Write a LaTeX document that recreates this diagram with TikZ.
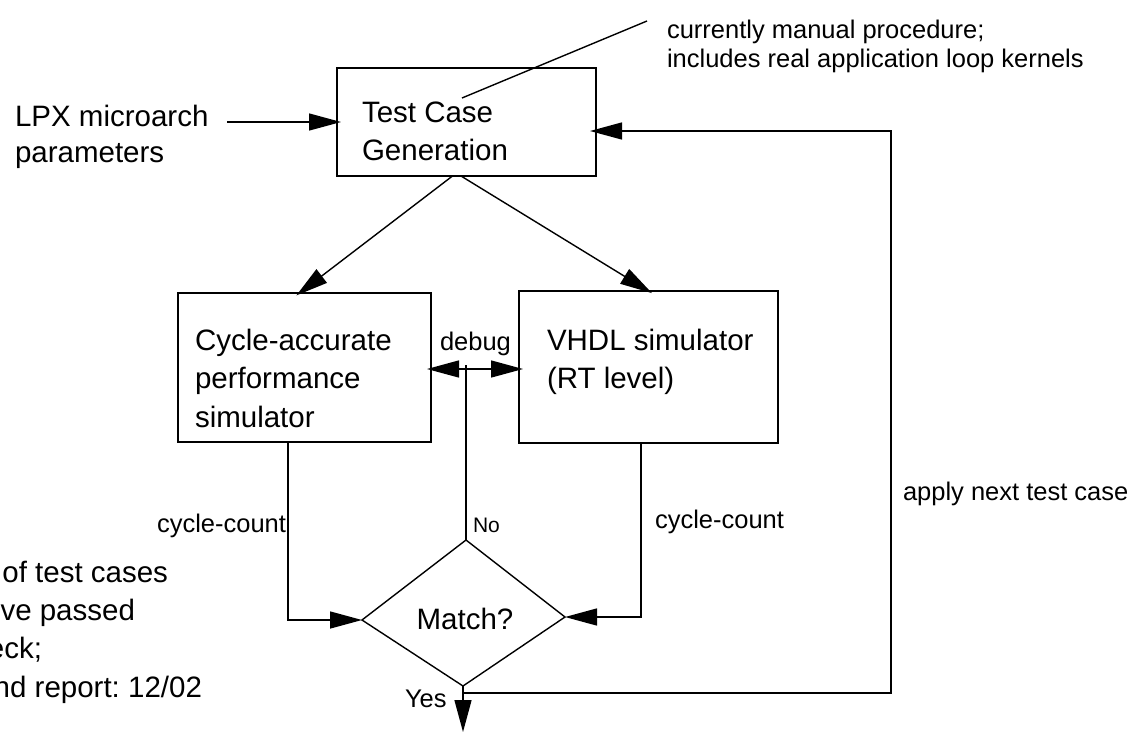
\documentclass[tikz,border=0pt]{standalone}
\usepackage{fontspec}
\setmainfont{Liberation Sans}
\usetikzlibrary{arrows.meta,calc}
\frenchspacing
% left-aligned block of lines whose baseline is the first line's baseline
\newcommand\txtlines[1]{\begin{tabular}[t]{@{}l@{}}#1\end{tabular}}
\begin{document}
\begin{tikzpicture}[x=1pt,y=-1pt,
  every node/.style={inner sep=0pt, outer sep=0pt},
  big/.style={font=\fontsize{29.5}{38.5}\selectfont},
  small/.style={font=\fontsize{25.5}{29}\selectfont},
  tiny/.style={font=\fontsize{21}{25}\selectfont},
  txt/.style={anchor=base west},
  block/.style={draw, line width=1.5pt, anchor=north west},
  wire/.style={line width=1.4pt},
  flow/.style={wire, -{Triangle[length=32pt,width=17pt]}},
  both/.style={wire, {Triangle[length=32pt,width=17pt]}-{Triangle[length=32pt,width=17pt]}},
]
\useasboundingbox (0,0) rectangle (1143,742);
\clip (0,0) rectangle (1143,742);

% ---- blocks ----
\node[block, minimum width=259pt, minimum height=108pt] (tcg) at (337,68) {};
\node[big, txt] (tcg-text) at (362,122) {\txtlines{Test Case\\Generation}};

\node[block, minimum width=253pt, minimum height=149pt] (cas) at (178,293) {};
\node[big, txt] (cas-text) at (195,350) {\txtlines{Cycle-accurate\\performance\\simulator}};

\node[block, minimum width=259pt, minimum height=152pt] (vhdl) at (519,291) {};
\node[big, txt] (vhdl-text) at (547,350) {\txtlines{VHDL simulator\\(RT level)}};

% ---- decision ----
\coordinate (m-top) at (466,540);
\coordinate (m-right) at (565,617);
\coordinate (m-bot) at (463,686);
\coordinate (m-left) at (362,620);
\draw[wire] (m-top) -- (m-right) -- (m-bot) -- (m-left) -- cycle;
\node[big, anchor=base] (match) at (465,629) {Match?};

% ---- inputs and notes ----
\node[big, txt, font=\fontsize{29.5}{36}\selectfont] (lpx) at (15,126) {\txtlines{LPX microarch\\parameters}};
\coordinate (lpx-out) at (227,122);
\draw[flow, shorten >=-4pt] (lpx-out) -- (tcg.west);

\node[small, txt] (note) at (667,38) {\txtlines{currently manual procedure;\\includes real application loop kernels}};
\coordinate (note-tip) at (462,98);
\coordinate (note-tail) at (647,21);
\draw[wire] (note-tip) -- (note-tail);

% ---- test case fan-out ----
\draw[flow, shorten >=-4pt] ([xshift=-14pt]tcg.south) -- ([xshift=-5pt]cas.north);
\draw[flow, shorten >=-4pt] ([xshift=-5.5pt]tcg.south) -- (vhdl.north);

% ---- debug link ----
\coordinate (dbg) at (466,369);
\draw[both, shorten >=-4pt, shorten <=-4pt] (cas.east |- dbg) -- (vhdl.west |- dbg);
\node[small, txt] (dbg-label) at (440,350) {debug};
\coordinate (no-end) at (466,365);
\draw[wire] (m-top) -- (no-end);
\node[tiny, txt] (no) at (473,532) {No};

% ---- cycle counts ----
\draw[flow] ([xshift=-16.5pt]cas.south) |- (m-left);
\draw[flow] ([xshift=-7.5pt]vhdl.south) |- (m-right);
\node[small, txt] (cc-left) at (157,532) {cycle-count};
\node[small, txt] (cc-right) at (655,528) {cycle-count};

% ---- exit and loop back ----
\coordinate (exit) at (463,732);
\draw[flow] (m-bot) -- (exit);
\node[small, txt] (yes) at (405,707) {Yes};
\coordinate (fb-start) at (463,693);
\coordinate (fb-corner) at (891,693);
\draw[flow, shorten >=-6pt] (fb-start) -- (fb-corner) |- ([yshift=-9pt]tcg.east);
\node[small, txt] (apply) at (903,500) {apply next test case};

% ---- pass-rate note ----
\node[big, anchor=base east] (pass1) at (168,582) {of test cases};
\node[big, anchor=base east] (pass2) at (135,620) {ve passed};
\node[big, anchor=base east] (pass3) at (42,658) {eck;};
\node[big, anchor=base east] (pass4) at (202,697) {nd report: 12/02};
\end{tikzpicture}
\end{document}
